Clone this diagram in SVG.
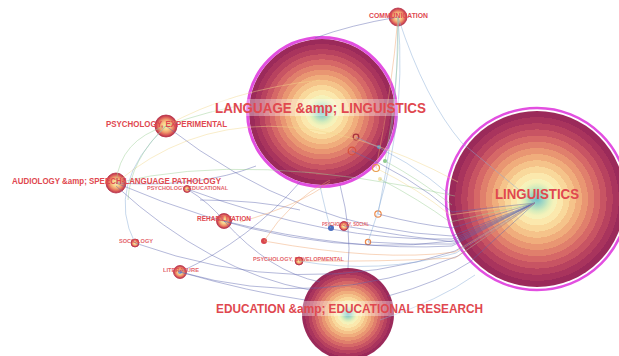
<svg xmlns="http://www.w3.org/2000/svg" width="619" height="356" viewBox="0 0 619 356">
<defs>
<radialGradient id="big" cx="0.5" cy="0.5" r="0.5">
<stop offset="0" stop-color="#6cbfcc"/>
<stop offset="0.07" stop-color="#9fd6c4"/>
<stop offset="0.14" stop-color="#d6ecbb"/>
<stop offset="0.19" stop-color="#f4f2ba"/>
<stop offset="0.23" stop-color="#f7f2ba"/>
<stop offset="0.23" stop-color="#fbe8ad"/>
<stop offset="0.30" stop-color="#fbe8ad"/>
<stop offset="0.30" stop-color="#f9d89b"/>
<stop offset="0.37" stop-color="#f9d89b"/>
<stop offset="0.37" stop-color="#f5c38a"/>
<stop offset="0.44" stop-color="#f5c38a"/>
<stop offset="0.44" stop-color="#f0ad7c"/>
<stop offset="0.51" stop-color="#f0ad7c"/>
<stop offset="0.51" stop-color="#e99672"/>
<stop offset="0.58" stop-color="#e99672"/>
<stop offset="0.58" stop-color="#e07f6c"/>
<stop offset="0.65" stop-color="#e07f6c"/>
<stop offset="0.65" stop-color="#d66867"/>
<stop offset="0.72" stop-color="#d66867"/>
<stop offset="0.72" stop-color="#c85463"/>
<stop offset="0.79" stop-color="#c85463"/>
<stop offset="0.79" stop-color="#b8425f"/>
<stop offset="0.86" stop-color="#b8425f"/>
<stop offset="0.86" stop-color="#a9345d"/>
<stop offset="0.93" stop-color="#a9345d"/>
<stop offset="0.93" stop-color="#9b2a5a"/>
<stop offset="1" stop-color="#9b2a5a"/>
</radialGradient>
<radialGradient id="small" cx="0.5" cy="0.5" r="0.5">
<stop offset="0" stop-color="#fbeeb0"/>
<stop offset="0.35" stop-color="#f8cf8a"/>
<stop offset="0.6" stop-color="#ef9a6c"/>
<stop offset="0.8" stop-color="#dc5f5a"/>
<stop offset="1" stop-color="#b83048"/>
</radialGradient>
</defs>
<style>
.e path{fill:none;stroke-width:0.85;opacity:0.55}
.b{stroke:#5f68b0}
.lb{stroke:#86aad6}
.g{stroke:#9bd096}
.o{stroke:#f0a46f}
.y{stroke:#f2d98c}
.lbl{font-family:"Liberation Sans",Arial,sans-serif;font-weight:bold;fill:#e0484f}
.ring{fill:none;stroke:#e24fe0}
.sn{fill:url(#small);stroke:#b83048;stroke-width:0.8}
.dot{fill:none;stroke-width:1.2}
.hl{fill:#ffffff;opacity:0.35}
</style>
<rect width="619" height="356" fill="#ffffff"/>

<g id="n-linguistics">
<circle cx="537" cy="199" r="88" fill="url(#big)"/>
<circle class="ring" cx="537" cy="199" r="91" stroke-width="2.5"/>
</g>
<g id="n-language">
<circle cx="322" cy="112" r="73" fill="url(#big)"/>
<circle class="ring" cx="322" cy="112" r="74.5" stroke-width="3"/>
</g>
<g id="n-education">
<circle cx="348" cy="314" r="46" fill="url(#big)"/>
</g>
<g id="n-communication"><circle class="sn" cx="398" cy="17" r="9"/></g>
<g id="n-psych-exp"><circle class="sn" cx="166" cy="126" r="11"/></g>
<g id="n-audiology"><circle class="sn" cx="116" cy="183" r="10"/></g>
<g id="n-psych-edu"><circle class="sn" cx="187" cy="189" r="3.5"/></g>
<g id="n-rehab"><circle class="sn" cx="224" cy="221" r="7.5"/></g>
<g id="n-sociology"><circle class="sn" cx="135" cy="243" r="4"/></g>
<g id="n-literature"><circle class="sn" cx="180" cy="272" r="6.5"/><circle cx="180" cy="272" r="2" fill="#7fa0d0"/></g>
<g id="n-psych-social"><circle cx="331" cy="228" r="3" fill="#4a6fc0"/><circle class="sn" cx="344" cy="226" r="4.5"/></g>
<g id="n-psych-dev"><circle class="sn" cx="299" cy="261" r="4"/></g>
<g id="n-small">
<circle class="dot" cx="378" cy="214" r="3.2" stroke="#ee8a4a" fill="#f8d090"/>
<circle class="dot" cx="368" cy="242" r="2.6" stroke="#ee8a4a" fill="#f8d090"/>
<circle cx="264" cy="241" r="3" fill="#d8454e"/>
<circle class="dot" cx="356" cy="137" r="2.8" stroke="#a8303c"/>
<circle class="dot" cx="352" cy="151" r="3.8" stroke="#d8503c"/>
<circle cx="379" cy="147" r="2" fill="#5a8ab8"/>
<circle cx="385" cy="161" r="2" fill="#8cc88c"/>
<circle class="dot" cx="376" cy="168" r="3.5" stroke="#e89a48" fill="#f8e0a8"/>
<circle cx="380" cy="179" r="2" fill="#f2e4b0"/>
</g>

<g id="connectors" class="e">
<path class="b" d="M166,126 Q300,230 452,236 L535,203"/>
<path class="b" d="M116,183 Q300,262 452,241 L535,203"/>
<path class="b" d="M116,183 Q200,188 256,166"/>
<path class="g" d="M116,183 Q120,140 166,126"/>
<path class="y" d="M116,183 Q250,70 458,182"/>
<path class="g" d="M116,183 Q250,150 455,196"/>
<path class="g" d="M166,126 Q210,110 250,104"/>
<path class="y" d="M166,126 Q230,90 320,80"/>
<path class="lb" d="M166,126 Q105,185 135,243"/>
<path class="g" d="M166,126 Q130,160 128,200"/>
<path class="b" d="M224,221 Q350,252 452,246 L535,203"/>
<path class="b" d="M187,189 Q330,242 452,239 L535,203"/>
<path class="b" d="M187,189 Q210,203 224,221"/>
<path class="b" d="M135,243 Q300,302 455,251 L535,203"/>
<path class="b" d="M180,272 Q320,312 458,256 L535,203"/>
<path class="b" d="M180,272 Q250,240 300,182"/>
<path class="b" d="M180,272 Q250,292 305,300"/>
<path class="b" d="M116,186 Q210,272 310,290"/>
<path class="b" d="M224,221 Q270,272 320,282"/>
<path class="b" d="M398,17 Q350,25 315,38"/>
<path class="lb" d="M398,17 Q425,100 462,143 L535,203"/>
<path class="lb" d="M398,17 Q398,120 378,214"/>
<path class="o" d="M398,17 Q392,90 376,168"/>
<path class="lb" d="M398,17 Q408,130 368,242"/>
<path class="g" d="M398,17 Q400,80 385,161"/>
<path class="o" d="M264,241 Q290,200 330,180"/>
<path class="o" d="M264,241 Q380,262 455,252 L535,203"/>
<path class="o" d="M240,222 Q300,205 330,182"/>
<path class="b" d="M388,296 Q440,282 470,262 L535,203"/>
<path class="lb" d="M380,320 Q440,300 475,275"/>
<path class="b" d="M340,185 Q352,230 348,268"/>
<path class="lb" d="M320,186 Q330,230 331,228"/>
<path class="b" d="M344,226 Q400,236 454,242 L535,203"/>
<path class="g" d="M385,161 Q420,180 452,205"/>
<path class="y" d="M376,168 Q420,190 450,215 L535,203"/>
<path class="g" d="M380,179 Q420,200 450,222 L535,203"/>
<path class="b" d="M378,214 Q420,225 452,228 L535,203"/>
<path class="b" d="M368,242 Q410,245 453,244 L535,203"/>
<path class="lb" d="M299,261 Q380,275 456,253 L535,203"/>
<path class="o" d="M299,261 Q380,262 455,258 L535,203"/>
<path class="b" d="M352,151 Q410,175 452,212 L535,203"/>
<path class="lb" d="M356,137 Q410,160 450,195"/>
<path class="b" d="M200,200 Q260,200 300,210"/>
</g>

<g id="labels">
<g id="label-linguistics"><text class="lbl" x="495" y="199" font-size="15" textLength="84" lengthAdjust="spacingAndGlyphs">LINGUISTICS</text></g>
<g id="label-language"><rect class="hl" x="212" y="99" width="218" height="17"/><text class="lbl" x="215" y="113" font-size="15.5" textLength="211" lengthAdjust="spacingAndGlyphs">LANGUAGE &amp;amp; LINGUISTICS</text></g>
<g id="label-education"><rect class="hl" x="213" y="301" width="273" height="15"/><text class="lbl" x="216" y="313" font-size="13" textLength="267" lengthAdjust="spacingAndGlyphs">EDUCATION &amp;amp; EDUCATIONAL RESEARCH</text></g>
<g id="label-communication"><text class="lbl" x="369" y="17.5" font-size="7" textLength="59" lengthAdjust="spacingAndGlyphs">COMMUNICATION</text></g>
<g id="label-psych-exp"><text class="lbl" x="106" y="127" font-size="9.5" textLength="121" lengthAdjust="spacingAndGlyphs">PSYCHOLOGY, EXPERIMENTAL</text></g>
<g id="label-audiology"><text class="lbl" x="12" y="184" font-size="9.5" textLength="209" lengthAdjust="spacingAndGlyphs">AUDIOLOGY &amp;amp; SPEECH-LANGUAGE PATHOLOGY</text></g>
<g id="label-psych-edu"><text class="lbl" x="147" y="190" font-size="6" textLength="81" lengthAdjust="spacingAndGlyphs" opacity="0.85">PSYCHOLOGY, EDUCATIONAL</text></g>
<g id="label-rehab"><text class="lbl" x="197" y="221.3" font-size="6.5" textLength="54" lengthAdjust="spacingAndGlyphs">REHABILITATION</text></g>
<g id="label-sociology"><text class="lbl" x="119" y="242.7" font-size="6" textLength="34" lengthAdjust="spacingAndGlyphs" opacity="0.85">SOCIOLOGY</text></g>
<g id="label-literature"><text class="lbl" x="163" y="272" font-size="6" textLength="36" lengthAdjust="spacingAndGlyphs" opacity="0.85">LITERATURE</text></g>
<g id="label-psych-social"><text class="lbl" x="322" y="226" font-size="4.5" textLength="47" lengthAdjust="spacingAndGlyphs" opacity="0.85">PSYCHOLOGY, SOCIAL</text></g>
<g id="label-psych-dev"><text class="lbl" x="253" y="261" font-size="6" textLength="91" lengthAdjust="spacingAndGlyphs" opacity="0.85">PSYCHOLOGY, DEVELOPMENTAL</text></g>
</g>
</svg>
